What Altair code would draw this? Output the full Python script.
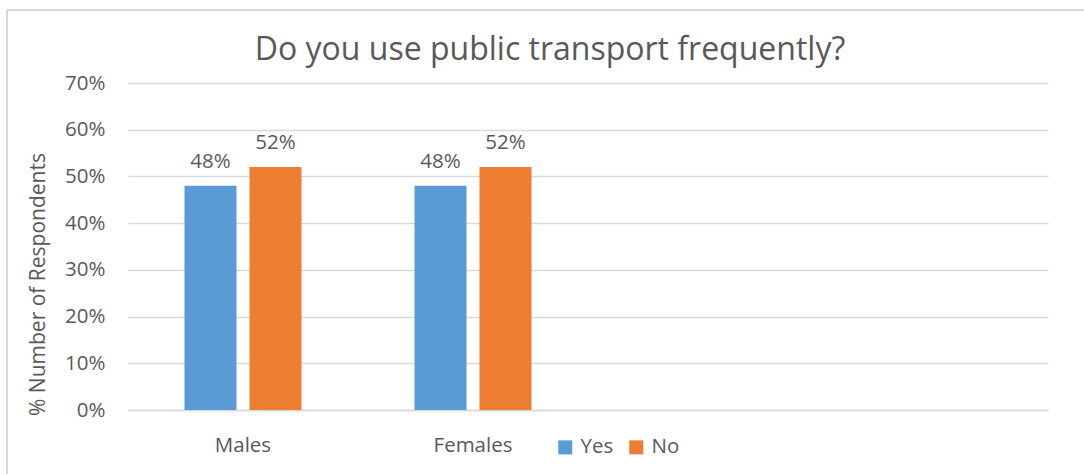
import altair as alt
import pandas as pd

categories = ["Males", "Females"]
axis_slots = ["Males", "Females", "", " "]
series = ["Yes", "No"]
yes_values = [48, 48]
no_values = [52, 52]

rows = []
for i, c in enumerate(categories):
    rows.append({"group": c, "answer": "Yes", "pct": yes_values[i]})
    rows.append({"group": c, "answer": "No", "pct": no_values[i]})
df = pd.DataFrame(rows)

FONT = "Open Sans"
TXT = "#595959"
GRID = "#D9D9D9"

x_enc = alt.X("group:N", sort=axis_slots,
              scale=alt.Scale(domain=axis_slots, paddingInner=0, paddingOuter=0),
              axis=alt.Axis(title=None, labelAngle=0, ticks=False, labelPadding=25,
                            labelFontSize=20.5, labelFont=FONT, labelColor=TXT,
                            domainColor=GRID, domainWidth=1.5, grid=False))
xo_enc = alt.XOffset("answer:N", sort=series,
                     scale=alt.Scale(domain=series, paddingInner=0.2, paddingOuter=0.869))
y_enc = alt.Y("pct:Q", scale=alt.Scale(domain=[0, 70], nice=False),
              axis=alt.Axis(values=[0, 10, 20, 30, 40, 50, 60, 70],
                            labelExpr="datum.value + '%'",
                            title="% Number of Respondents", titleFont=FONT,
                            titleFontSize=21, titleFontWeight="normal", titleColor=TXT,
                            titleAngle=270, titleAlign="center", titleBaseline="alphabetic",
                            titleX=-84, titleY=201,
                            labelFontSize=20.5, labelFont=FONT, labelColor=TXT,
                            labelPadding=23, ticks=False, domain=False,
                            grid=True, gridColor=GRID, gridWidth=1.3))
color_enc = alt.Color("answer:N", sort=series,
                      scale=alt.Scale(domain=series, range=["#5B9BD5", "#ED7D31"]),
                      legend=alt.Legend(title=None, orient="none", direction="horizontal",
                                        legendX=427, legendY=354, symbolType="square",
                                        symbolSize=196, symbolStrokeWidth=0,
                                        labelFontSize=20.5, labelFont=FONT, labelColor=TXT,
                                        labelOffset=5, columnPadding=12, padding=0))

bars = alt.Chart(df).mark_bar().encode(x=x_enc, xOffset=xo_enc, y=y_enc, color=color_enc)
labels = alt.Chart(df).transform_calculate(lbl="datum.pct + '%'").mark_text(
    font=FONT, fontSize=20.5, color=TXT, baseline="alphabetic", dy=-18).encode(
    x=alt.X("group:N", sort=axis_slots), xOffset=alt.XOffset("answer:N", sort=series),
    y="pct:Q", text="lbl:N")

border_top = alt.Chart(df).mark_rule(color=GRID, strokeWidth=1.5).encode(
    x=alt.value(-121), x2=alt.value(1000), y=alt.value(-73))
border_left = alt.Chart(df).mark_rule(color=GRID, strokeWidth=1.5).encode(
    x=alt.value(-121), y=alt.value(-73), y2=alt.value(500))

chart = alt.layer(bars, labels, border_top, border_left).properties(
    width=920, height=327,
    title=alt.TitleParams("Do you use public transport frequently?", anchor="middle",
                          frame="group", dx=-38, fontSize=32, font=FONT,
                          fontWeight="normal", color=TXT, baseline="alphabetic",
                          offset=-83),
    autosize=alt.AutoSizeParams(type="none"),
    padding={"left": 128, "top": 83, "right": 36, "bottom": 64},
).configure(background="white").configure_view(stroke="transparent", strokeWidth=0)

chart.save("out.html", embed_options={"renderer": "svg", "actions": False})
